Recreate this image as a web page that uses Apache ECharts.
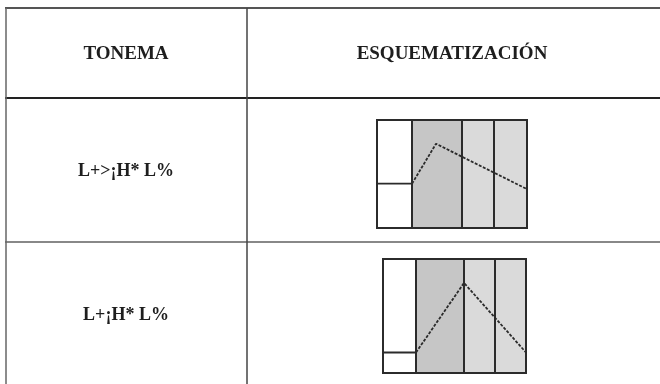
<!DOCTYPE html>
<html>
<head>
<meta charset="utf-8">
<script src="https://cdn.jsdelivr.net/npm/echarts@6/dist/echarts.min.js"></script>
<style>
  html, body { margin: 0; padding: 0; background: #fff; }
  #main { width: 660px; height: 384px; }
</style>
</head>
<body>
<div id="main"></div>
<script>
var chartDom = document.getElementById('main');
var myChart = echarts.init(chartDom);

// table text
const headers = ['TONEMA', 'ESQUEMATIZACIÓN'];
const tonemas = ['L+>¡H* L%', 'L+¡H* L%'];

// cell fills of each schematic (pre-tonic, tonic, post-tonic, post-tonic)
const cellFills = ['#ffffff', '#c6c6c6', '#dadada', '#dadada'];

// schematic 1: syllable boundaries and F0 contour (0 = bottom, 100 = top)
const diag1Bounds = [0, 35, 85, 117, 150];
const diag1Start = [[0, 41], [35, 41]];
const diag1Contour = [[35, 41], [59, 78], [150, 36]];

// schematic 2
const diag2Bounds = [0, 33, 81, 112, 143];
const diag2Start = [[0, 18], [33, 18]];
const diag2Contour = [[33, 18], [81, 79], [143, 18]];

function cellData(bounds) {
    let out = [];
    for (let i = 0; i < bounds.length - 1; i++) {
        out.push([bounds[i], bounds[i + 1], i]);
    }
    return out;
}

function cellSeries(bounds, idx) {
    return {
        type: 'custom',
        xAxisIndex: idx,
        yAxisIndex: idx,
        silent: true,
        data: cellData(bounds),
        renderItem: function (params, api) {
            const p0 = api.coord([api.value(0), 100]);
            const p1 = api.coord([api.value(1), 0]);
            return {
                type: 'rect',
                shape: { x: p0[0], y: p0[1], width: p1[0] - p0[0], height: p1[1] - p0[1] },
                style: { fill: cellFills[api.value(2)], stroke: '#2b2b2b', lineWidth: 2 }
            };
        },
        z: 1
    };
}

function lineSeries(data, idx, dashed) {
    return {
        type: 'line',
        xAxisIndex: idx,
        yAxisIndex: idx,
        data: data,
        symbol: 'none',
        silent: true,
        clip: false,
        lineStyle: {
            color: '#2b2b2b',
            width: dashed ? 1.8 : 1.8,
            type: dashed ? [3, 1.5] : 'solid'
        },
        z: 3
    };
}

const hiddenX = (idx, max) => ({ type: 'value', gridIndex: idx, min: 0, max: max, show: false });
const hiddenY = (idx) => ({ type: 'value', gridIndex: idx, min: 0, max: 100, show: false });

const serif = '"Liberation Serif", "DejaVu Serif", serif';
const lineCol = '#555';

var option = {
    backgroundColor: '#fff',
    animation: false,
    grid: [
        { left: 377, top: 120, width: 150, height: 108 },
        { left: 383, top: 259, width: 143, height: 114 }
    ],
    xAxis: [
        hiddenX(0, diag1Bounds[diag1Bounds.length - 1]),
        hiddenX(1, diag2Bounds[diag2Bounds.length - 1])
    ],
    yAxis: [hiddenY(0), hiddenY(1)],
    series: [
        cellSeries(diag1Bounds, 0),
        lineSeries(diag1Start, 0, false),
        lineSeries(diag1Contour, 0, true),
        cellSeries(diag2Bounds, 1),
        lineSeries(diag2Start, 1, false),
        lineSeries(diag2Contour, 1, true)
    ],
    graphic: [
        // table rules
        { type: 'line', shape: { x1: 5, y1: 8, x2: 660, y2: 8 }, style: { stroke: lineCol, lineWidth: 2 } },
        { type: 'line', shape: { x1: 5, y1: 98, x2: 660, y2: 98 }, style: { stroke: '#222', lineWidth: 2 } },
        { type: 'line', shape: { x1: 5, y1: 242, x2: 660, y2: 242 }, style: { stroke: '#888', lineWidth: 2 } },
        { type: 'line', shape: { x1: 6, y1: 8, x2: 6, y2: 384 }, style: { stroke: '#666', lineWidth: 1.5 } },
        { type: 'line', shape: { x1: 247, y1: 8, x2: 247, y2: 384 }, style: { stroke: '#444', lineWidth: 1.5 } },
        // headers
        { type: 'text', x: 126, y: 54, style: { text: headers[0], font: 'bold 19px ' + serif, fill: '#1e1e1e', align: 'center', verticalAlign: 'middle' } },
        { type: 'text', x: 452, y: 54, style: { text: headers[1], font: 'bold 19px ' + serif, fill: '#1e1e1e', align: 'center', verticalAlign: 'middle' } },
        // tonema labels
        { type: 'text', x: 126, y: 171, style: { text: tonemas[0], font: 'bold 18px ' + serif, fill: '#1e1e1e', align: 'center', verticalAlign: 'middle' } },
        { type: 'text', x: 126, y: 315, style: { text: tonemas[1], font: 'bold 18px ' + serif, fill: '#1e1e1e', align: 'center', verticalAlign: 'middle' } }
    ]
};

option && myChart.setOption(option);
</script>
</body>
</html>
